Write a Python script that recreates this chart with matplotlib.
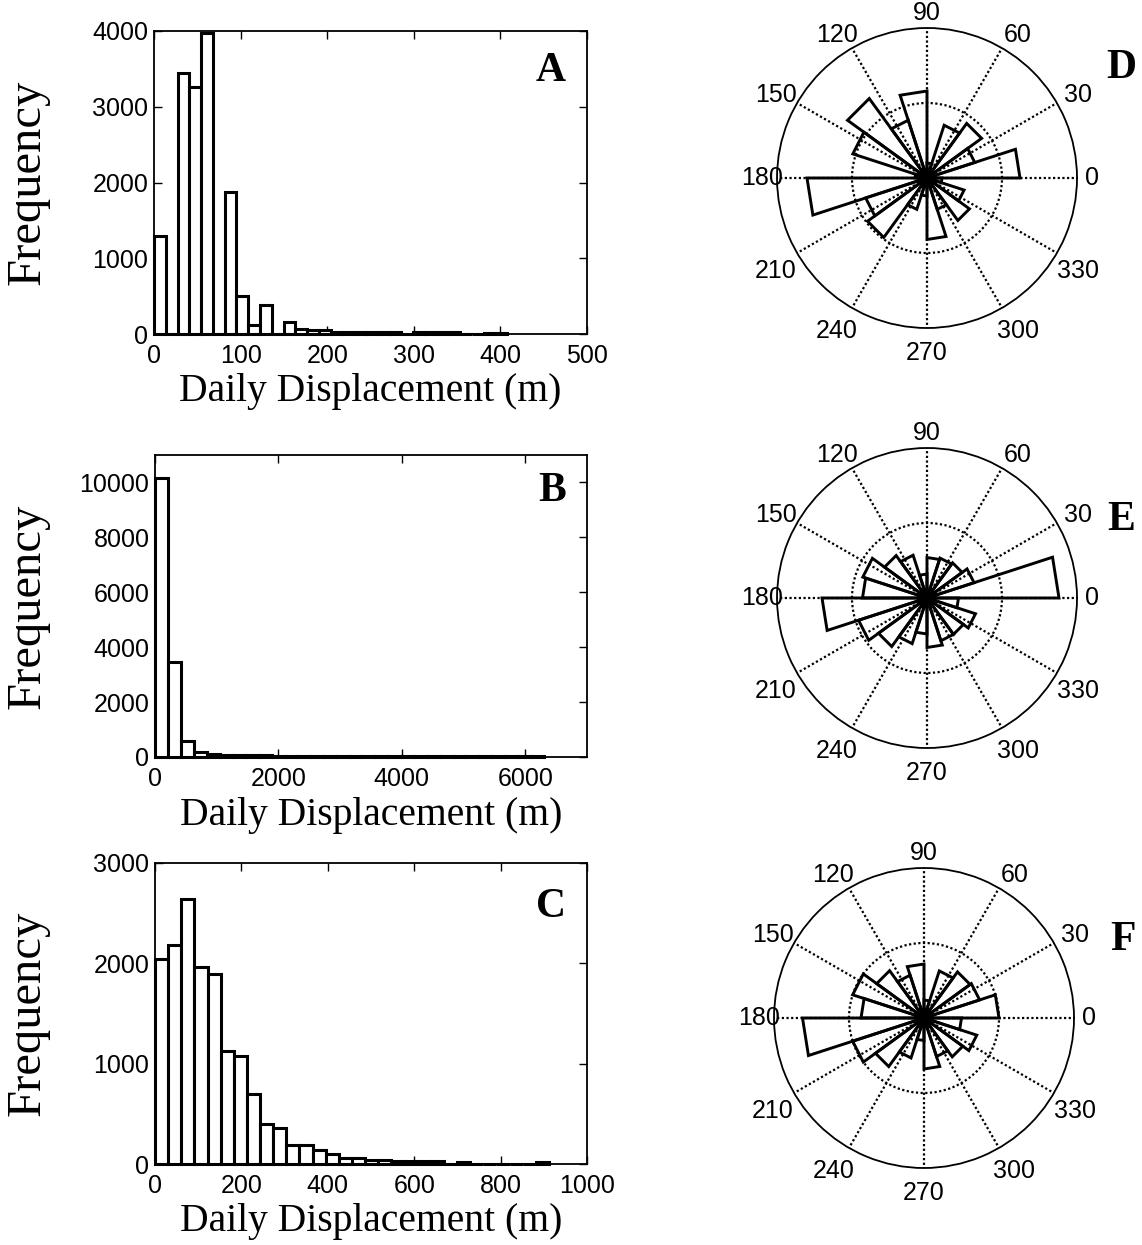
import numpy as np
import matplotlib.pyplot as plt
from matplotlib.transforms import offset_copy

plt.rcParams['font.family'] = ['Liberation Sans', 'DejaVu Sans']

# daily displacement histograms: 30 equal bins starting at 0 (bin width in m)
a_width = 13.6
a_counts = [1297, 0, 3446, 3261, 3974, 0, 1868, 505, 119, 382, 0, 163, 60, 55, 50,
            25, 20, 20, 20, 20, 20, 0, 20, 20, 20, 20, 0, 0, 15, 15]
b_width = 210
b_counts = [10150, 3450, 570, 180, 120, 90, 70, 60, 55, 50, 50, 45, 45, 40, 40,
            40, 35, 35, 35, 30, 30, 30, 30, 30, 25, 25, 25, 25, 25, 20]
c_width = 30.4
c_counts = [2047, 2179, 2641, 1963, 1894, 1123, 1073, 698, 402, 359, 193, 193, 136, 100, 60,
            60, 43, 43, 33, 25, 25, 25, 0, 20, 0, 0, 0, 0, 0, 20]

a_xticks = [0, 100, 200, 300, 400, 500]
a_yticks = [0, 1000, 2000, 3000, 4000]
b_xticks = [0, 2000, 4000, 6000]
b_yticks = [0, 2000, 4000, 6000, 8000, 10000]
c_xticks = [0, 200, 400, 600, 800, 1000]
c_yticks = [0, 1000, 2000, 3000]

# rose diagrams: 20 direction bins of 18 deg, length relative to outer ring
rose_edges = np.arange(0, 361, 18)
d_len = [0.62, 0.335, 0.45, 0.37, 0.10, 0.58, 0.405, 0.655, 0.52, 0.08,
         0.80, 0.43, 0.49, 0.22, 0.12, 0.41, 0.22, 0.35, 0.26, 0.10]
e_len = [0.88, 0.33, 0.29, 0.28, 0.27, 0.16, 0.30, 0.35, 0.45, 0.43,
         0.70, 0.48, 0.40, 0.32, 0.24, 0.33, 0.30, 0.30, 0.34, 0.21]
f_len = [0.50, 0.39, 0.38, 0.33, 0.12, 0.36, 0.30, 0.39, 0.50, 0.42,
         0.81, 0.50, 0.40, 0.28, 0.15, 0.34, 0.27, 0.32, 0.37, 0.25]
angle_labels = np.arange(0, 360, 30)

W, H = 1142, 1245
fig = plt.figure(figsize=(W / 100, H / 100), dpi=100)
serif = ['Liberation Serif', 'DejaVu Serif']


def px_box(x0, y0, x1, y1):
    return [x0 / W, 1 - y1 / H, (x1 - x0) / W, (y1 - y0) / H]


def panel_letter(x, y, letter):
    fig.text(x / W, 1 - y / H, letter, family=serif, fontweight='bold',
             fontsize=30, ha='center', va='center')


def draw_hist(box, width, counts, xticks, xmax, yticks, ymax, letter, letter_xy):
    x0, y0, x1, y1 = box
    ax = fig.add_axes(px_box(*box))
    edges = np.arange(len(counts)) * width
    ax.bar(edges, counts, width=width, align='edge', facecolor='white',
           edgecolor='black', linewidth=2.2, clip_on=False, zorder=3)
    ax.set_xlim(0, xmax)
    ax.set_ylim(0, ymax)
    ax.set_xticks(xticks)
    ax.set_yticks(yticks)
    ax.tick_params(direction='in', top=True, right=True, length=6, width=1,
                   labelsize=18, pad=4)
    ax.tick_params(axis='x', pad=7)
    for s in ax.spines.values():
        s.set_linewidth(1.3)
    ax.set_xlabel('Daily Displacement (m)', family=serif, fontsize=28.5)
    ax.xaxis.label.set_va('center')
    ax.xaxis.set_label_coords(0.5, -58 / (y1 - y0))
    ax.set_ylabel('Frequency', family=serif, fontsize=35)
    ax.yaxis.label.set_va('center')
    ax.yaxis.set_label_coords((28 - x0) / (x1 - x0), 0.5)
    panel_letter(*letter_xy, letter)
    return ax


def draw_rose(cx, cy, lengths, letter, letter_xy):
    R = 150
    ax = fig.add_axes(px_box(cx - R, cy - R, cx + R, cy + R), projection='polar')
    th = np.deg2rad(rose_edges)
    for i, r in enumerate(lengths):
        ax.plot([0, th[i], th[i + 1], 0], [0, r, r, 0], color='black',
                lw=2.1, solid_joinstyle='miter')
    ax.set_ylim(0, 1)
    ax.set_thetagrids(angle_labels, labels=[])
    ax.set_rgrids([0.5], labels=[])
    ax.grid(True, color='black', linestyle=(0, (1, 1.1)), linewidth=1.6)
    ax.set_axisbelow(True)
    ax.spines['polar'].set_linewidth(1.3)
    for a in angle_labels:
        t = np.deg2rad(a)
        c, s = np.cos(t), np.sin(t)
        dx = 0 if abs(c) < 0.1 or abs(c) > 0.99 else 8 * np.sign(c)
        dy = -10 if s < -0.1 else 0
        tr = offset_copy(ax.transData, fig=fig, x=dx, y=dy, units='dots')
        ax.text(t, 1.1, str(a), fontsize=18, ha='center', va='center',
                transform=tr)
    panel_letter(*letter_xy, letter)
    return ax


draw_hist((154, 31, 587, 334), a_width, a_counts, a_xticks, 500, a_yticks, 4000, 'A', (551, 71))
draw_hist((155, 455, 587, 757), b_width, b_counts, b_xticks, 7000, b_yticks, 11000, 'B', (552, 491))
draw_hist((155, 863, 587, 1164), c_width, c_counts, c_xticks, 1000, c_yticks, 3000, 'C', (551, 907))

draw_rose(927, 178, d_len, 'D', (1121, 68))
draw_rose(927, 598, e_len, 'E', (1121, 520))
draw_rose(924, 1018, f_len, 'F', (1123, 940))

fig.savefig('out.png', dpi=100)
